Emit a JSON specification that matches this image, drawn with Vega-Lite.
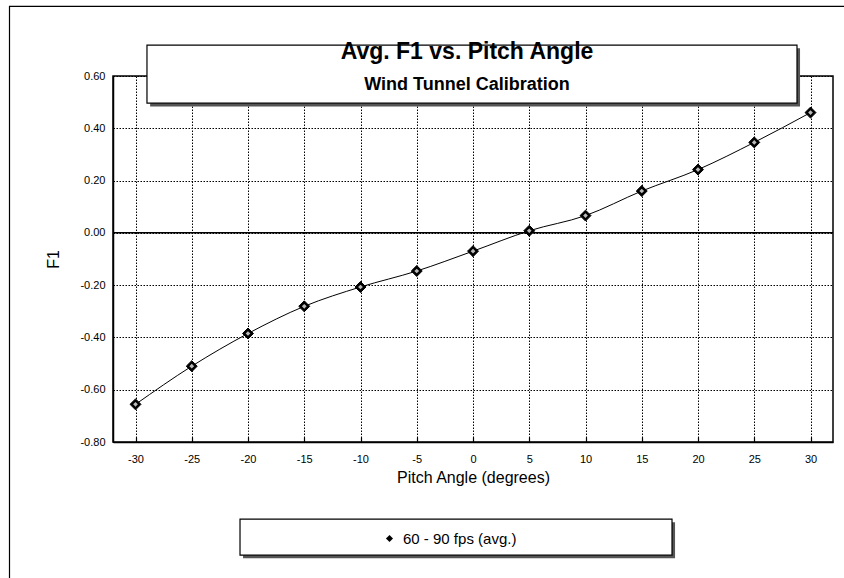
{
  "$schema": "https://vega.github.io/schema/vega-lite/v6.json",
  "autosize": {"type": "none"},
  "padding": {"left": 113, "top": 76, "right": 11, "bottom": 136},
  "width": 720,
  "height": 366,
  "background": "white",
  "config": {
    "font": "Liberation Sans",
    "view": {"stroke": "black", "strokeWidth": 1.5},
    "axis": {
      "labelFont": "Liberation Sans",
      "labelFontSize": 11,
      "labelColor": "black",
      "titleFont": "Liberation Sans",
      "titleFontSize": 16,
      "titleFontWeight": "normal",
      "titleColor": "black",
      "domainColor": "black",
      "domainWidth": 1.5,
      "tickColor": "black",
      "grid": true,
      "gridColor": "black",
      "gridDash": [1.5, 1.5],
      "gridWidth": 1,
      "gridOpacity": 1
    }
  },
  "title": {
    "text": "Avg. F1 vs. Pitch Angle",
    "subtitle": "Wind Tunnel Calibration",
    "frame": "group",
    "anchor": "middle",
    "font": "Liberation Sans",
    "fontSize": 23,
    "fontWeight": "bold",
    "color": "black",
    "subtitleFont": "Liberation Sans",
    "subtitleFontSize": 18,
    "subtitleFontWeight": "bold",
    "subtitleColor": "black",
    "subtitlePadding": 12,
    "offset": 0,
    "dy": 88,
    "dx": -6,
    "zindex": 1
  },
  "data": {
    "values": [
      {"pitch": -30, "f1": -0.656, "series": "60 - 90 fps (avg.)"},
      {"pitch": -25, "f1": -0.510, "series": "60 - 90 fps (avg.)"},
      {"pitch": -20, "f1": -0.385, "series": "60 - 90 fps (avg.)"},
      {"pitch": -15, "f1": -0.281, "series": "60 - 90 fps (avg.)"},
      {"pitch": -10, "f1": -0.207, "series": "60 - 90 fps (avg.)"},
      {"pitch": -5, "f1": -0.146, "series": "60 - 90 fps (avg.)"},
      {"pitch": 0, "f1": -0.070, "series": "60 - 90 fps (avg.)"},
      {"pitch": 5, "f1": 0.008, "series": "60 - 90 fps (avg.)"},
      {"pitch": 10, "f1": 0.066, "series": "60 - 90 fps (avg.)"},
      {"pitch": 15, "f1": 0.160, "series": "60 - 90 fps (avg.)"},
      {"pitch": 20, "f1": 0.242, "series": "60 - 90 fps (avg.)"},
      {"pitch": 25, "f1": 0.346, "series": "60 - 90 fps (avg.)"},
      {"pitch": 30, "f1": 0.460, "series": "60 - 90 fps (avg.)"}
    ]
  },
  "layer": [
    {
      "data": {"values": [{}]},
      "mark": {"type": "rect", "fill": "transparent", "stroke": "black", "strokeWidth": 1.2},
      "encoding": {
        "x": {"datum": -41.2, "type": "quantitative"},
        "x2": {"datum": 45},
        "y": {"datum": 0.866, "type": "quantitative"},
        "y2": {"datum": -1.6}
      }
    },
    {
      "data": {"values": [{}]},
      "mark": {"type": "rect", "fill": "#555555"},
      "encoding": {
        "x": {"datum": -28.7, "type": "quantitative"},
        "x2": {"datum": 29.07},
        "y": {"datum": 0.706, "type": "quantitative"},
        "y2": {"datum": 0.483}
      }
    },
    {
      "data": {"values": [{}]},
      "mark": {"type": "rect", "fill": "white", "stroke": "black", "strokeWidth": 1.2},
      "encoding": {
        "x": {"datum": -28.98, "type": "quantitative"},
        "x2": {"datum": 28.8},
        "y": {"datum": 0.718, "type": "quantitative"},
        "y2": {"datum": 0.496}
      }
    },
    {
      "data": {"values": [{}]},
      "mark": {"type": "rect", "fill": "#555555"},
      "encoding": {
        "x": {"datum": -20.44, "type": "quantitative"},
        "x2": {"datum": 17.96},
        "y": {"datum": -1.107, "type": "quantitative"},
        "y2": {"datum": -1.245}
      }
    },
    {
      "data": {"values": [{}]},
      "mark": {"type": "rect", "fill": "white", "stroke": "black", "strokeWidth": 1.2},
      "encoding": {
        "x": {"datum": -20.71, "type": "quantitative"},
        "x2": {"datum": 17.69},
        "y": {"datum": -1.095, "type": "quantitative"},
        "y2": {"datum": -1.233}
      }
    },
    {
      "data": {"values": [{}]},
      "mark": {"type": "rule", "color": "black", "strokeWidth": 1.5},
      "encoding": {
        "y": {"datum": 0, "type": "quantitative"}
      }
    },
    {
      "mark": {"type": "line", "color": "black", "strokeWidth": 1, "interpolate": "monotone"},
      "encoding": {
        "x": {"field": "pitch", "type": "quantitative"},
        "y": {"field": "f1", "type": "quantitative"}
      }
    },
    {
      "mark": {"type": "point", "filled": true, "fill": "black", "stroke": "black", "strokeWidth": 1, "size": 120, "opacity": 1},
      "encoding": {
        "x": {
          "field": "pitch",
          "type": "quantitative",
          "title": "Pitch Angle (degrees)",
          "scale": {"domain": [-32, 32], "nice": false, "zero": false},
          "axis": {
            "values": [-30, -27.5, -25, -22.5, -20, -17.5, -15, -12.5, -10, -7.5, -5, -2.5, 0, 2.5, 5, 7.5, 10, 12.5, 15, 17.5, 20, 22.5, 25, 27.5, 30],
            "labelExpr": "datum.value % 5 === 0 ? replace(format(datum.value, 'd'), '\u2212', '-') : ''",
            "tickSize": -5,
            "tickWidth": 1.2,
            "labelPadding": 16,
            "titlePadding": 5
          }
        },
        "y": {
          "field": "f1",
          "type": "quantitative",
          "title": "F1",
          "scale": {"domain": [-0.8, 0.6], "nice": false, "zero": false},
          "axis": {
            "values": [-0.8, -0.7, -0.6, -0.5, -0.4, -0.3, -0.2, -0.1, 0, 0.1, 0.2, 0.3, 0.4, 0.5, 0.6],
            "labelExpr": "round(datum.value * 10) % 2 === 0 ? replace(format(datum.value, '.2f'), '\u2212', '-') : ''",
            "tickSize": 0,
            "labelPadding": 8,
            "titlePadding": 18
          }
        },
        "shape": {
          "field": "series",
          "type": "nominal",
          "scale": {"range": ["diamond"]},
          "legend": {
            "orient": "none",
            "legendX": 269,
            "legendY": 455,
            "title": null,
            "padding": 0,
            "symbolSize": 50,
            "symbolFillColor": "black",
            "symbolStrokeColor": "black",
            "symbolStrokeWidth": 1,
            "labelFont": "Liberation Sans",
            "labelFontSize": 15,
            "labelColor": "black",
            "labelOffset": 6
          }
        }
      }
    },
    {
      "mark": {"type": "point", "shape": "diamond", "filled": true, "fill": "#bbbbbb", "strokeWidth": 0, "size": 22, "opacity": 1},
      "encoding": {
        "x": {"field": "pitch", "type": "quantitative"},
        "y": {"field": "f1", "type": "quantitative"}
      }
    }
  ]
}
